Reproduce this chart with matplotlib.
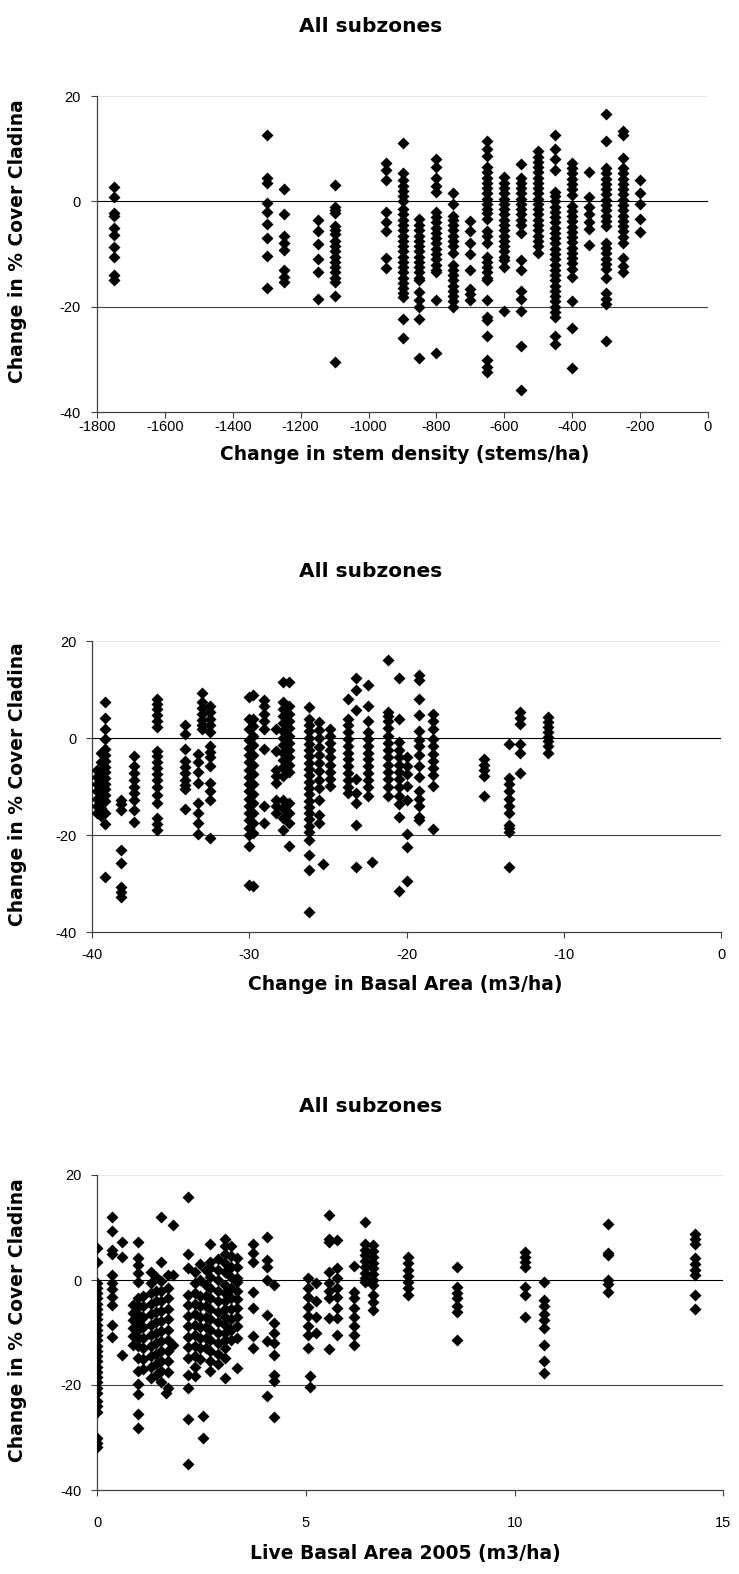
import matplotlib
matplotlib.use("Agg")
import matplotlib.pyplot as plt

plt.rcParams["font.family"] = ["Liberation Sans", "DejaVu Sans"]
plt.rcParams["axes.unicode_minus"] = False

TITLE = "All subzones"
YLABEL = "Change in % Cover Cladina"

# panel 1: change in stem density
stem_x = [-1750, -1300, -1250, -1150, -1100, -950, -900, -850, -800, -750,
          -700, -650, -600, -550, -500, -450, -400, -350, -300, -250, -200]
stem_y = [
    [2.8, 0.8, -2.3, -2.8, -5, -6.3, -8.6, -10.6, -14, -15],
    [12.5, 4.4, 3.4, -0.3, -2, -4.3, -7, -10.3, -16.4],
    [2.3, -2.5, -6.6, -7.9, -9.3, -13, -14.3, -15.3],
    [-3.5, -5.7, -8.1, -10.9, -13.5, -18.6],
    [3.1, -1, -1.6, -2.2, -4.6, -5.4, -6.2, -7.5, -8.5, -9.5, -10.5, -11.5,
     -12.4, -13.5, -14.5, -15.3, -17.9, -30.6],
    [7.3, 6, 4, -2, -4, -5.6, -10.8, -12.7],
    [11, 5.4, 4, 3, 2, 1, 0, -1.5, -2.5, -3.5, -4.5, -5.5, -6.5, -7.5, -8.5,
     -9.5, -10.5, -11.5, -12.5, -13.5, -14.5, -15.5, -16.5, -17.5, -18.2,
     -22.4, -25.9],
    [-3.4, -4.5, -5.5, -6.5, -7.5, -8.5, -9.5, -10.5, -11.5, -12.5, -13.5,
     -14.5, -15, -17.2, -18.8, -20.1, -22.4, -29.7],
    [8, 6.6, 4.4, 3, 1.8, -2, -3, -4, -5, -6, -7, -8, -9, -10, -11, -12, -13,
     -13.4, -18.8, -28.8],
    [1.5, -0.5, -2.7, -3.5, -4.5, -5.5, -6.5, -7.5, -8.5, -9.8, -12, -13, -14,
     -15, -16, -17, -18, -19, -20],
    [-3.7, -5.6, -7.9, -10, -13, -16.6, -17.6, -18.8],
    [11.5, 9.9, 8.6, 6.6, 5.5, 4.5, 3.5, 2.5, 1.5, 0.5, -0.5, -1.5, -2.2,
     -3.4, -5.6, -6.5, -7.9, -10.5, -11.5, -12.5, -13.5, -14.5, -15, -18.8,
     -22, -22.5, -25.6, -30.1, -31.5, -32.5],
    [4.7, 3.5, 2.5, 1.5, 0.5, -0.5, -1.5, -2.5, -3.5, -4.5, -5.5, -6.5, -7.5,
     -8.5, -9.5, -10.5, -11.2, -12.4, -20.8],
    [7, 4.4, 3.5, 2.5, 1.5, 0.5, -0.5, -1.5, -2.5, -3.5, -4.5, -6, -11.1, -13,
     -17, -18.5, -20.8, -27.5, -35.9],
    [9.5, 8.5, 7.5, 6.5, 5.5, 4.5, 3.5, 2.5, 1.5, 0.5, -0.5, -1.5, -2.5, -3.5,
     -4.5, -5.5, -6.5, -7.5, -8.5, -9.8],
    [12.5, 9.9, 8, 6, 1.8, 1, 0, -1, -2, -3, -4, -5, -6, -7, -8, -9, -10, -11,
     -12, -13, -14, -15, -16, -17, -18, -19, -20, -21, -22, -25.6, -27],
    [7.3, 6.3, 5.3, 4.3, 3.3, 2.3, 1.2, -0.8, -1.8, -2.8, -3.8, -4.8, -5.8,
     -6.8, -7.8, -8.8, -9.8, -10.8, -11.8, -12.8, -14.3, -19, -24.1, -31.7],
    [5.5, 0.8, -1.1, -2.5, -4, -5.3, -8.3],
    [16.5, 11.4, 6.3, 5.3, 4.3, 3.3, 2.3, 1.3, 0.3, -0.7, -1.7, -2.7, -3.7,
     -4.6, -7.9, -8.9, -9.9, -10.9, -11.9, -12.9, -14.6, -17.5, -18.5, -19.5,
     -26.6],
    [13.4, 12.5, 8.3, 6.3, 5.3, 4.3, 3.3, 2.3, 1.3, 0.3, -0.7, -1.7, -2.7,
     -3.7, -4.7, -5.7, -6.7, -7.9, -10.8, -12.3, -13.5],
    [4.1, 1.5, -0.5, -3.4, -5.9],
]

# panel 2: change in basal area
ba_x = [-39.7, -39.45, -39.2, -38.15, -37.35, -35.9, -34.1, -33.3, -33.0,
        -32.5, -30.0, -29.8, -29.1, -28.3, -27.85, -27.5, -26.2, -25.6, -25.3,
        -24.9, -23.7, -23.25, -22.45, -22.2, -21.2, -20.5, -20.0, -19.2,
        -18.3, -15.1, -13.5, -12.8, -11.0]
ba_y = [
    [-6.5, -8, -9.5, -11, -12.5, -14, -15.5],
    [-3, -5, -7, -9, -11, -13, -14.5, -16],
    [7.4, 4.2, 1.9, -0.2, -2.3, -3.5, -4.7, -5.9, -7.1, -8.3, -9.5, -10.6,
     -11.8, -13, -15.5, -17.8, -28.7],
    [-12.7, -13.7, -14.8, -23, -25.7, -30.8, -31.8, -32.8],
    [-3.7, -5.8, -7.2, -8.6, -10, -11.4, -12.8, -14.8, -17.4],
    [8.1, 7, 5.9, 4.8, 3.5, 2.2, -2.6, -3.8, -5, -6.2, -7.4, -8.6, -10.2,
     -11.8, -13.4, -16.5, -17.8, -19],
    [2.7, 0.8, -2.3, -4.7, -6, -7.3, -8.6, -9.6, -10.6, -14.6],
    [-3.3, -5, -7.1, -9.2, -13.4, -15.5, -17.6, -19.7],
    [9.2, 7.4, 6.2, 5, 3.8, 2.6, 1.9],
    [6.7, 5.4, 4, 2.6, 1.2, -1.6, -2.8, -4, -5.8, -9.2, -10.9, -12.7, -20.7],
    [8.5, 4, 1.9, -0.4, -2, -3.5, -5, -6.5, -8, -9.5, -11, -12.5, -14, -15.5,
     -17, -18.5, -20, -22.3, -30.4],
    [8.8, 4, 2.5, 0.5, -1.5, -3.5, -5.5, -7.5, -9.5, -11.5, -13.5, -15.5,
     -17.5, -19.5, -30.6],
    [7.8, 6.5, 5, 3.5, 1.9, -2.3, -14.1, -17.6],
    [1.9, -2.6, -6.5, -7.8, -9.2, -12.7, -14.1, -15.5],
    [11.6, 7.4, 6, 4.5, 3, 1.5, 0, -1.5, -3, -4.5, -6, -7.8, -12.7, -14.5,
     -16.5, -19],
    [11.6, 6.5, 5, 3.5, 2, 0.5, -1, -2.5, -4, -5.5, -7, -13.5, -15.5, -17.5,
     -22.3],
    [6.4, 4, 2.7, 1.4, 0.1, -1.2, -2.5, -3.8, -5.1, -6.4, -7.7, -9, -10.3,
     -11.6, -12.9, -14.2, -15.5, -16.8, -18.1, -19.4, -21, -24.2, -27.2,
     -35.8],
    [3.3, 1.6, -0.1, -1.8, -3.5, -5.2, -6.9, -8.6, -10.3, -12.7, -15.8, -17.6],
    [-26],
    [1.9, 0.5, -1, -2.5, -4, -5.5, -7, -8.5, -9.9],
    [8.1, 4, 2.6, 1.2, -0.2, -1.6, -3, -4.4, -5.8, -7.2, -8.6, -10, -11.3],
    [12.4, 9.9, 5.7, -8.5, -11.3, -13.4, -17.9, -26.5],
    [10.9, 6.7, 3.6, 1.2, -0.2, -1.6, -3, -4.4, -5.8, -7.2, -8.6, -10, -12],
    [-25.6],
    [16.1, 5.3, 4.5, 3.5, 2, 0.5, -1, -2.5, -4, -5.5, -7, -8.5, -10, -12],
    [12.3, 4, -0.9, -2.5, -4, -5.5, -7, -8.5, -10, -12, -13.6, -16.2, -31.5],
    [-4, -5.8, -7.5, -9.9, -12.7, -19.7, -22.4, -29.4],
    [13, 12, 8.1, 4.7, 1.5, -0.5, -1.6, -3.5, -5.8, -8, -11, -12.5, -14,
     -16.2, -16.9],
    [5, 3.5, 1.9, -0.2, -1.7, -3.2, -4.7, -6.2, -7.7, -9.9, -18.8],
    [-4.4, -5.5, -6.5, -7.8, -11.9],
    [-1.2, -8.2, -9.5, -11, -12.5, -14, -15.5, -17.9, -18.6, -19.3, -26.5],
    [5.3, 4.1, 2.9, -1.2, -3, -7.2],
    [4.3, 3.3, 2.3, 1.3, 0.3, -0.7, -1.7, -3],
]

# panel 3: live basal area 2005
live_x = [0.0, 0.35, 0.58, 0.85, 0.98, 1.1, 1.28, 1.4, 1.53, 1.65, 1.7, 1.81,
          2.17, 2.33, 2.45, 2.53, 2.6, 2.7, 2.9, 3.06, 3.2, 3.34, 3.74, 4.06,
          4.24, 5.05, 5.1, 5.25, 5.56, 5.74, 6.15, 6.41, 6.61, 7.45, 8.63,
          10.25, 10.71, 12.24, 14.32]
live_y = [
    [6.1, 3.5, -0.6, -1.5, -2.5, -3.5, -4.5, -5.5, -6.5, -7.5, -8.5, -9.5,
     -10.5, -11.5, -12.5, -13.5, -14.5, -15.5, -16.5, -17.5, -18.5, -19.5,
     -20.5, -21.5, -23, -24, -25.2, -30, -31, -31.9],
    [12, 9.3, 5.7, 5, 0.9, -0.5, -1.8, -3.2, -4.7, -8.6, -10.9],
    [7.3, 4.4, -14.2],
    [-4.7, -6.2, -7.7, -9.2, -10.7, -12.3],
    [7.3, 4.1, 2.8, 1.3, -0.3, -3.5, -5, -6.5, -8, -9.5, -11, -12.5, -14.8,
     -17.4, -19.9, -21.8, -25.6, -28.1],
    [-3, -5, -7, -9, -11, -13, -15, -17],
    [1.6, -0.5, -2.5, -4.5, -6.5, -8.5, -10.5, -12.5, -14.5, -16.5, -18.6],
    [0.5, -2, -4, -6, -8, -10, -12, -14, -16, -18],
    [12, 3.5, -0.2, -2.1, -4, -5.9, -7.8, -9.7, -11.6, -13.5, -15.4, -17.3,
     -19.5],
    [-21.5],
    [1, -1.5, -3.5, -5.5, -7.5, -9.5, -11.5, -13.5, -15.5, -17.5, -20.5],
    [10.4, 0.9, -12.3],
    [15.8, 5, 2.2, -2.8, -4.8, -6.8, -8.8, -10.8, -12.8, -14.8, -18, -20.5,
     -26.5, -35],
    [1.5, -0.5, -2.5, -4.5, -6.5, -8.5, -10.5, -12.5, -14.5, -16.5, -18.3],
    [3, 0, -3, -5, -7, -9, -11, -13, -15],
    [-25.9, -30],
    [2, -1, -3, -5, -7, -9, -11, -13],
    [6.9, 3.5, 2.2, 0.5, -1.5, -3.5, -5.5, -7.5, -9.5, -11.5, -13.5, -15.5,
     -17.4],
    [4, 2, 0, -2, -4, -6, -8, -10, -12, -14, -16],
    [7.9, 6.5, 5, 3.3, 1.6, -0.9, -2.5, -4, -5.5, -7, -8.5, -10, -11.5, -13,
     -14.8, -18.6],
    [6.5, 4.5, 2.5, 0.5, -1.5, -3.5, -5.5, -7.5, -9.5, -11.5],
    [4.1, 2.5, 0.3, -0.3, -2, -3.7, -5.4, -7.1, -8.8, -11, -16.7],
    [6.9, 5.2, 3.5, -2.2, -5.4, -10.7, -12.9],
    [8.2, 3.8, 2.5, 0, -6.6, -11.7, -22.1],
    [-0.9, -8.2, -10, -12, -14.2, -18, -19.2, -26.1],
    [0.3, -1.5, -3.3, -5.1, -6.9, -8.7, -10.5, -12.9],
    [-18.3, -20.4],
    [-0.5, -4, -7, -10],
    [12.3, 7.9, 7.3, 1.6, -0.5, -2, -3.5, -7.3, -13.2],
    [7.6, 2.2, 0.3, -1.5, -3.3, -5.3, -7.3, -10.4],
    [2.6, -2.2, -3.5, -5.3, -7, -8.8, -10.5, -12.3],
    [11, 6.9, 5.8, 4.7, 3.6, 2.5, 1.4, 0.3, -0.3],
    [6.6, 5.5, 4.4, 3.3, 2.2, 1.1, 0, -0.9, -2.8, -4.2, -5.7],
    [4.4, 3.2, 2, 0.8, -0.4, -1.6, -2.8],
    [2.5, -1.3, -2.5, -3.5, -5, -6, -11.4],
    [5.4, 4.4, 3.4, 2.5, -1.3, -2.8, -7.1],
    [-0.3, -3.8, -5, -6.5, -7.6, -9.1, -12.3, -15.5, -17.7],
    [10.7, 5.2, 4.8, 0, -0.8, -2.2],
    [8.8, 7.8, 6.9, 4.1, 3.1, 2, 0.9, -2.8, -5.5],
]

W, H = 739, 1574
BOLD = ["DejaVu Sans"]


def flatten(xs, ys):
    px, py = [], []
    for x, col in zip(xs, ys):
        px += [x] * len(col)
        py += col
    return px, py


def panel(fig, box, xs, ys, xlim, xticks, xlabel, tick_pad, title_y,
          xlabel_y, ylabel_y):
    left, top, right, bottom = box
    ax = fig.add_axes([left / W, 1 - bottom / H, (right - left) / W,
                       (bottom - top) / H])
    px, py = flatten(xs, ys)
    ax.plot(px, py, "D", ms=6, color="black", mec="none", zorder=3)
    ax.set_xlim(*xlim)
    ax.set_ylim(-40, 20)
    ax.set_xticks(xticks)
    ax.set_yticks([-40, -20, 0, 20])
    ax.axhline(0, color="black", lw=0.8, zorder=1)
    ax.axhline(-20, color="#404040", lw=0.8, zorder=1)
    ax.axhline(20, color="#e8e8e8", lw=0.8, zorder=1)
    for side in ["top", "right"]:
        ax.spines[side].set_visible(False)
    for side in ["left", "bottom"]:
        ax.spines[side].set_color("#404040")
        ax.spines[side].set_linewidth(0.9)
    ax.tick_params(axis="both", direction="out", length=4.5, width=0.8,
                   color="#404040", labelsize=10.5)
    ax.tick_params(axis="y", pad=7)
    ax.tick_params(axis="x", pad=tick_pad)
    fig.text(371 / W, 1 - title_y / H, TITLE, ha="center", va="center",
             fontsize=14.5, fontweight="bold", family=BOLD)
    fig.text(405 / W, 1 - xlabel_y / H, xlabel, ha="center", va="center",
             fontsize=13.5, fontweight="bold", family=BOLD)
    fig.text(18 / W, 1 - ylabel_y / H, YLABEL, ha="center", va="center",
             rotation=90, fontsize=13.5, fontweight="bold", family=BOLD)
    return ax


fig = plt.figure(figsize=(W / 100, H / 100), dpi=100)

panel(fig, (97, 96, 708, 412), stem_x, stem_y, (-1800, 0),
      list(range(-1800, 1, 200)), "Change in stem density (stems/ha)",
      1.5, 27, 455, 241)
panel(fig, (92.3, 641, 721, 932), ba_x, ba_y, (-40, 0),
      [-40, -30, -20, -10, 0], "Change in Basal Area (m3/ha)",
      7, 572, 984, 784)
panel(fig, (97.3, 1175, 723.3, 1490), live_x, live_y, (0, 15),
      [0, 5, 10, 15], "Live Basal Area 2005 (m3/ha)",
      14, 1106, 1553, 1320)

fig.savefig("out.png", dpi=100)
